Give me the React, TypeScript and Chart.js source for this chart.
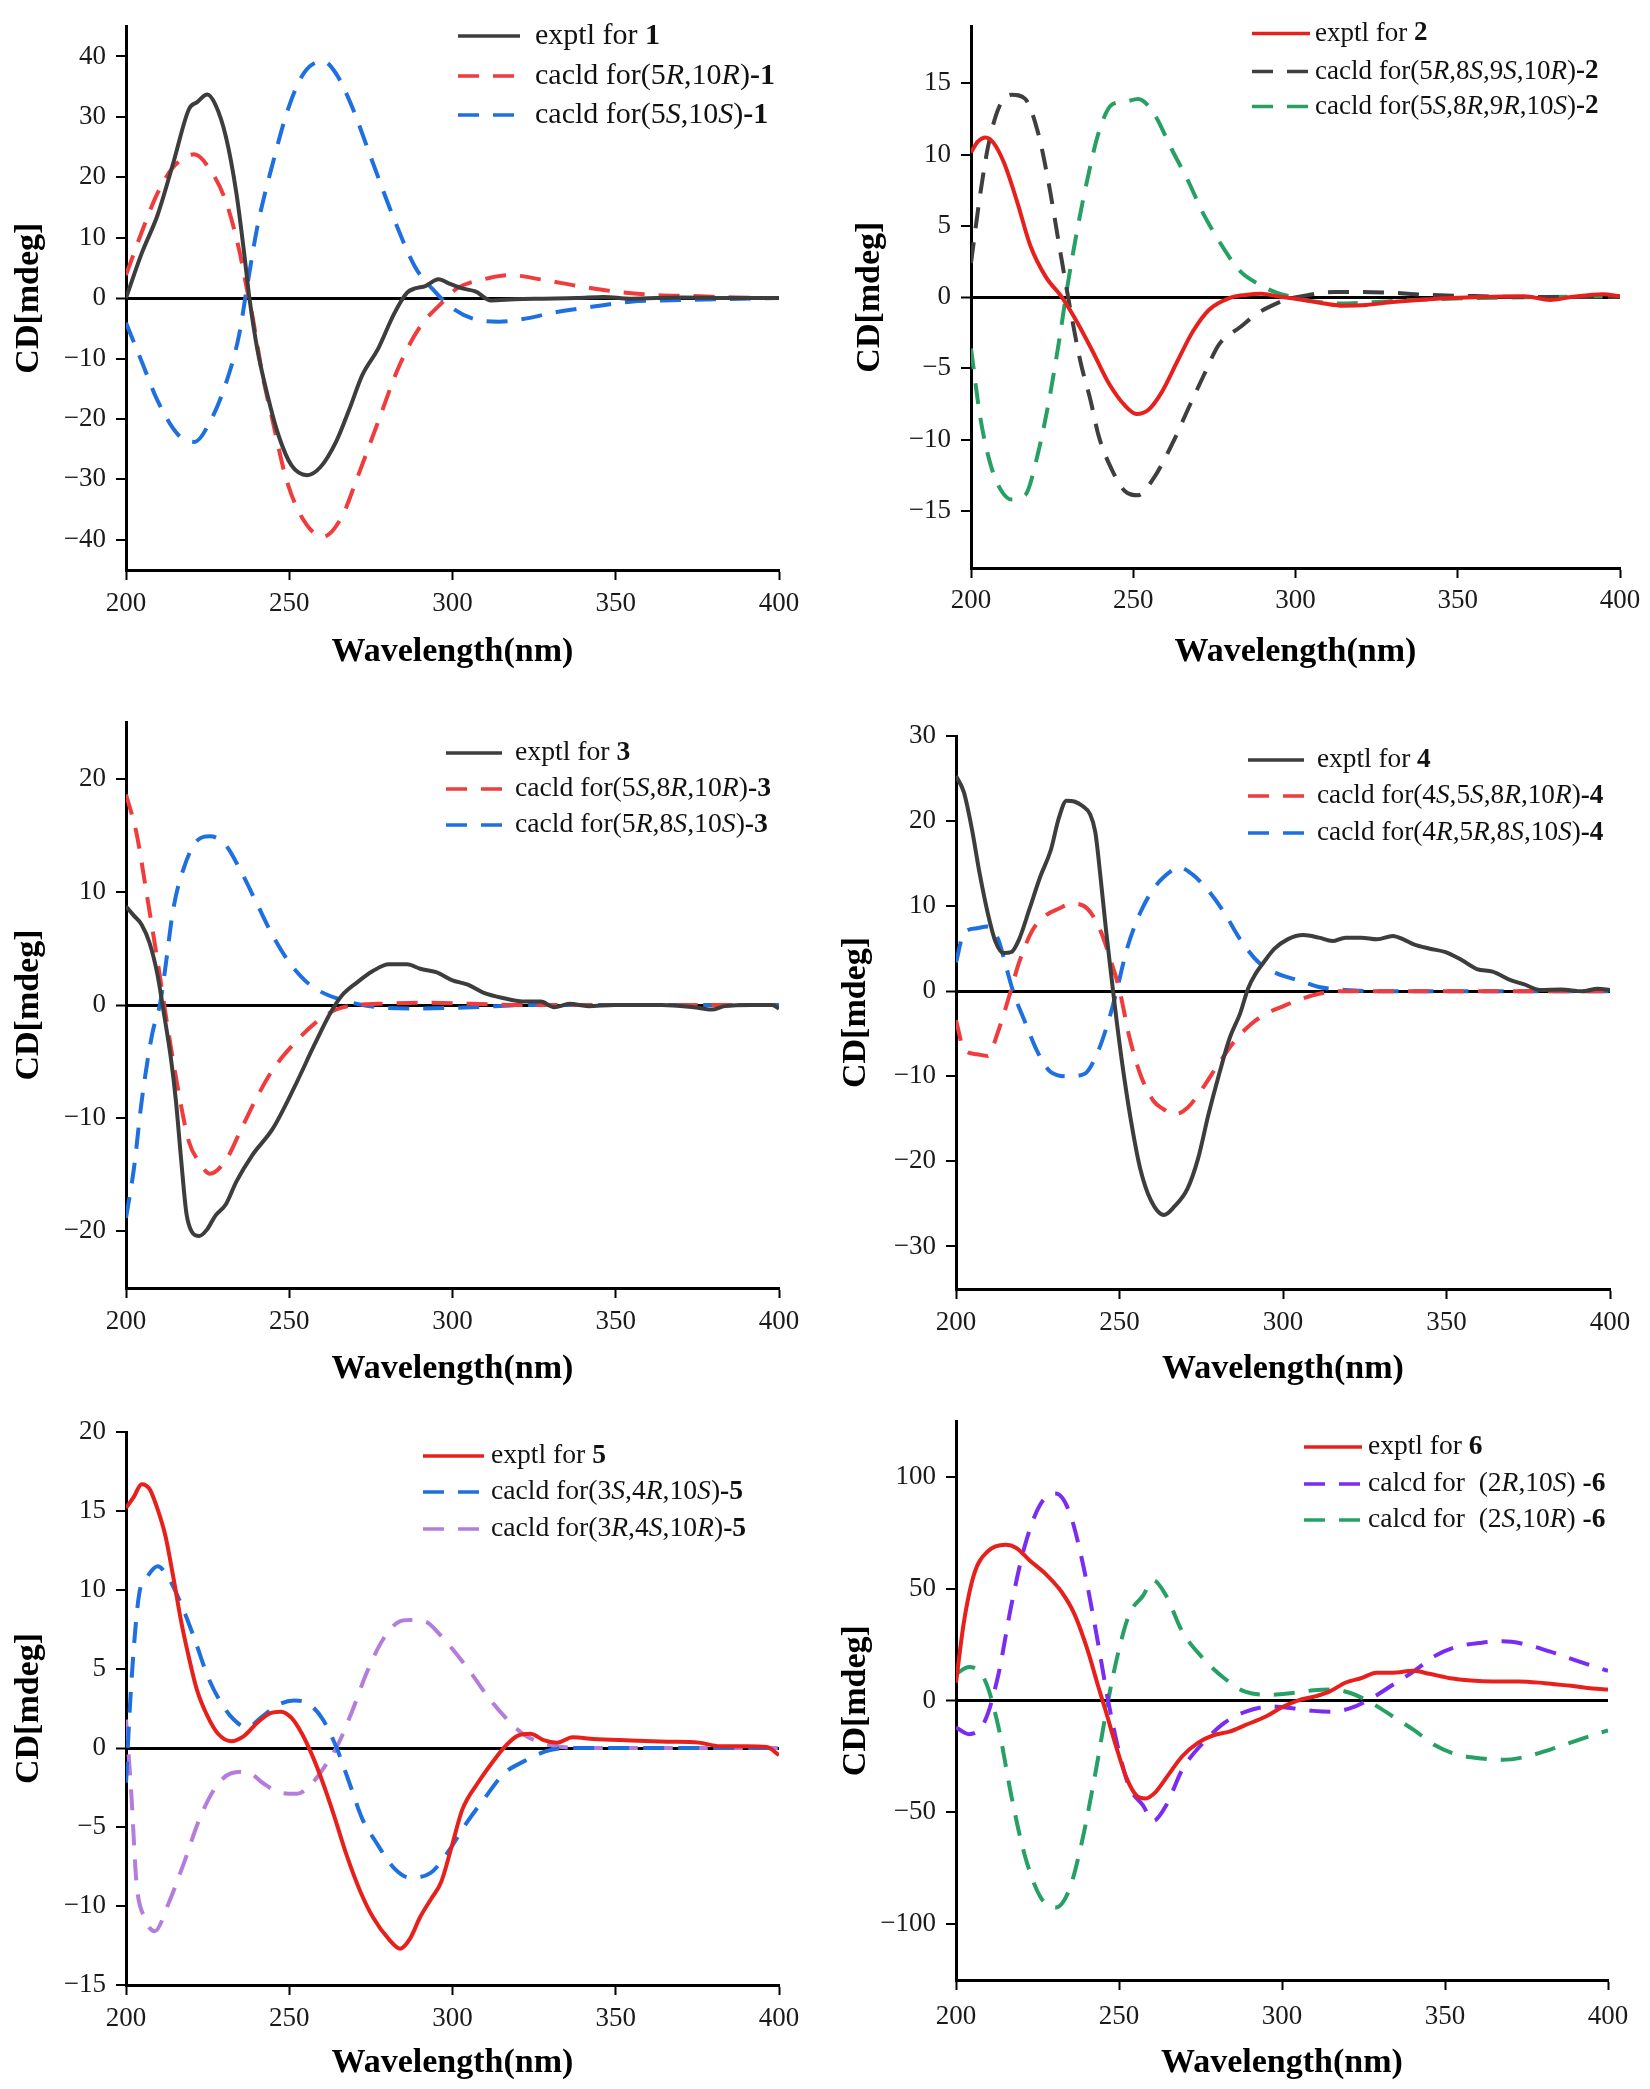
import React, { useEffect, useRef } from "react";
import { Chart, registerables } from "chart.js";

Chart.register(...registerables);

type Pt = [number, number];
type Seg = [string, "n" | "i" | "b"];

// ---------- tick labels ----------
const wavelengthTicks = [200, 250, 300, 350, 400];
const yTicks1 = [-40, -30, -20, -10, 0, 10, 20, 30, 40];
const yTicks2 = [-15, -10, -5, 0, 5, 10, 15];
const yTicks3 = [-20, -10, 0, 10, 20];
const yTicks4 = [-30, -20, -10, 0, 10, 20, 30];
const yTicks5 = [-15, -10, -5, 0, 5, 10, 15, 20];
const yTicks6 = [-100, -50, 0, 50, 100];

// ---------- panel 1 ----------
const p1Exptl: Pt[] = [[200,0],[204.8,7.4],[209.7,13.8],[214.5,22.4],[219.3,31.3],[221.7,32.4],[224.9,33.7],[227.4,32],[230.6,26.7],[233.8,17.4],[236.2,7.4],[237.8,0],[240.2,-8.4],[243.4,-16.2],[246.7,-22.7],[250.7,-27.7],[255.5,-29.3],[259.5,-28],[264.4,-23.7],[268.4,-18.4],[272.4,-12.7],[277.2,-8.4],[282.1,-2.6],[286.1,0.9],[288.5,1.6],[291.7,2.0],[295.7,3.1],[299,2.4],[303,1.6],[307,1.1],[311.8,-0.4],[319,-0.2],[327,-0.1],[338,0],[346.4,0.2],[354.5,-0.1],[370.5,0.1],[386.6,0],[400,0]];
const p1CalcRR: Pt[] = [[200,3.8],[204.8,10.9],[209.7,17.4],[214.5,21.7],[220.9,23.8],[225.7,21.3],[230.6,16],[234.6,8.1],[237,1.6],[238.6,-2.6],[241.8,-12.7],[245,-20.5],[249,-29.8],[253.9,-36.3],[260.3,-39.5],[266,-36.3],[270.8,-29.8],[277.2,-20.5],[283.7,-11.2],[290,-4.8],[296.5,-0.9],[301.4,1.6],[309.4,3.1],[317.5,3.8],[327,3.1],[338.4,2.0],[349.6,1.1],[362.5,0.5],[373.8,0.35],[386.6,0.1],[400,0]];
const p1CalcSS: Pt[] = [[200,-4.1],[204.8,-10.5],[209.7,-17],[216.1,-22.7],[221,-23.8],[225.7,-20.5],[230.6,-14.1],[234.6,-6.2],[237,1.6],[240.2,11.7],[245,22.4],[249.9,31.7],[254.7,37.4],[260.3,39.2],[264.4,37.1],[269.2,31.7],[275.6,22.4],[282.1,13.1],[288.5,5.2],[294.9,0.9],[299.8,-1.6],[306.2,-3.4],[314.2,-3.9],[322.3,-3.4],[331.9,-2.3],[343.2,-1.4],[354.5,-0.6],[367.3,-0.35],[383.4,-0.15],[400,0]];

// ---------- panel 2 ----------
const p2Exptl: Pt[] = [[200,10.15],[202.1,10.9],[204.5,11.2],[207,10.8],[210.2,9.4],[214.2,6.7],[218.3,3.6],[223.1,1.4],[228,0],[232.8,-1.8],[237.7,-3.9],[242.6,-6.1],[247.4,-7.6],[251,-8.2],[254.7,-7.9],[258.7,-6.7],[263.6,-4.5],[268.4,-2.4],[273.3,-0.9],[279.8,-0.06],[284.6,0.15],[289.5,0.24],[294.3,0.06],[300.8,-0.15],[308.9,-0.45],[314.6,-0.6],[321.8,-0.55],[329.9,-0.35],[341.3,-0.15],[357.4,0],[370.4,0.06],[378.5,-0.2],[384.9,0],[394.7,0.2],[400,0.06]];
const p2CalcA: Pt[] = [[200,2.4],[202.9,7.3],[205.3,10.6],[208.6,13.3],[212.6,14.2],[216.7,13.9],[220.7,11.5],[224,7.9],[227.2,3.6],[230.4,-0.6],[233.7,-4.5],[236.9,-7.3],[239.3,-9.7],[243.4,-12.1],[247.4,-13.6],[251.5,-13.9],[256.3,-12.7],[262,-10.3],[266.8,-7.9],[271.7,-5.5],[276.5,-3.3],[283,-2.1],[287.9,-1.2],[292.7,-0.6],[297.6,-0.15],[304,0.15],[312.1,0.36],[320.2,0.36],[329.9,0.3],[341.3,0.15],[357.4,0.06],[378.5,0],[400,0]];
const p2CalcB: Pt[] = [[200,-3.6],[202.9,-8.5],[206.1,-11.8],[209.4,-13.6],[212.6,-14.2],[216.7,-13.9],[220.7,-10.9],[224,-7.3],[227.2,-3],[229.6,0.6],[232.8,4.8],[236.1,8.5],[239.3,11.5],[243.4,13.5],[247.4,13.7],[251.5,13.9],[256.3,12.9],[262,10.3],[266.8,8.2],[271.7,5.8],[278.2,3.3],[283,1.8],[288.7,0.9],[294.3,0.3],[299.2,0],[305.7,-0.3],[313.8,-0.45],[323.5,-0.36],[333.2,-0.24],[349.4,-0.1],[373.6,0],[400,0.06]];

// ---------- panel 3 ----------
const p3Exptl: Pt[] = [[200,8.7],[202.4,7.9],[204.8,7.1],[207.2,5.5],[209.7,2.6],[211.3,-0.2],[213.7,-4.6],[215.3,-8.5],[216.9,-13.7],[218.5,-18.4],[220.1,-20],[222.5,-20.4],[224.9,-19.8],[227.4,-18.6],[230.6,-17.6],[233.8,-15.6],[238.6,-13.3],[245,-10.9],[251.5,-7.3],[257.9,-3.4],[262.8,-0.6],[266,0.8],[270.8,2],[275.6,3],[280.5,3.6],[286.1,3.6],[290.1,3.2],[295,2.9],[299.8,2.2],[304.7,1.8],[309.4,1.1],[315.8,0.6],[322.3,0.3],[327.1,0.3],[331.1,-0.2],[335.9,0.1],[341.6,-0.1],[349.6,0],[364.1,0],[373.8,-0.2],[379.4,-0.4],[383.4,-0.1],[391.5,0],[397.9,0],[400,-0.3]];
const p3CalcA: Pt[] = [[200,18.6],[203.2,15.2],[206.4,9.7],[209.7,3.8],[212.9,-2.2],[216.1,-7.7],[219.3,-12.1],[222.5,-13.9],[225.7,-14.9],[230.6,-13.7],[235.4,-10.9],[240.2,-8.1],[245,-5.7],[251.5,-3.4],[257.9,-1.6],[264.4,-0.4],[270.8,0],[277.2,0.1],[290.1,0.2],[306.2,0.1],[322.3,0],[400,0]];
const p3CalcB: Pt[] = [[200,-18.8],[202.4,-14.5],[204.8,-8.5],[208,-2.6],[210.5,0.2],[212.1,3.4],[214.5,8.5],[217.7,12.1],[221.7,14.5],[225.7,14.9],[230.6,14.1],[235.4,11.7],[240.2,8.9],[245,6.1],[249.9,3.8],[254.7,2.2],[259.5,1.2],[264.4,0.6],[270.8,0.1],[277.2,-0.2],[290.1,-0.3],[306.2,-0.2],[322.3,0],[400,0]];

// ---------- panel 4 ----------
const p4Exptl: Pt[] = [[200,25.3],[202.4,23.4],[204.8,19.2],[207.2,13.9],[209.7,9.2],[212.1,5.8],[214.5,4.5],[216.9,4.6],[219.3,6.1],[222.5,9.7],[225.7,13.4],[229,16.6],[231.4,20.3],[233.8,22.4],[236.2,22.3],[238.6,21.8],[241,20.8],[242.6,18.7],[244.2,13.4],[245.9,7.1],[247.5,1.8],[249.1,-3.4],[251.5,-10.3],[253.9,-16.1],[256.3,-20.8],[259.5,-24.5],[263.6,-26.3],[266.8,-25.3],[270.8,-23.2],[274,-19.7],[277.2,-14.5],[280.5,-9.7],[283.7,-5.5],[286.9,-2.6],[289.3,0.3],[291.7,2.1],[294.1,3.4],[297.4,5],[301.4,6.1],[306.2,6.6],[311,6.3],[315.1,5.9],[319.1,6.3],[323.9,6.3],[328.8,6.1],[333.6,6.5],[336.8,6.1],[340,5.5],[344.9,5],[349.7,4.6],[354.5,3.7],[359.3,2.6],[364.1,2.3],[369,1.4],[373.8,0.8],[378.6,0.15],[385,0.2],[391.5,0],[396.3,0.3],[400,0.15]];
const p4CalcA: Pt[] = [[200,-3.4],[202.4,-6.8],[206.4,-7.4],[209.7,-7.6],[212.9,-4.7],[216.1,-0.8],[219.3,3.4],[223.3,7.1],[227.4,8.9],[231.4,9.7],[235.4,10.3],[240.2,9.7],[244.2,7.1],[247.5,3.4],[249.9,0.3],[253.1,-5.5],[256.3,-9.7],[260.4,-12.9],[263.6,-13.9],[266.8,-14.5],[270.8,-13.7],[275.6,-11.3],[280.5,-8.4],[285.3,-5.8],[290.1,-3.9],[295,-2.6],[299.8,-1.8],[304.6,-1.05],[311,-0.3],[317.5,0],[328.8,0],[400,0]];
const p4CalcB: Pt[] = [[200,3.4],[202.4,6.8],[206.4,7.4],[209.7,7.6],[212.9,6.1],[215.3,2.9],[217.7,-0.3],[220.9,-3.4],[224.9,-7.1],[229,-9.5],[234.6,-10],[239.4,-9.7],[243.4,-7.1],[246.7,-3.4],[249.1,0],[252.3,5],[256.3,9.2],[261.1,12.4],[266,14.2],[267.9,14.6],[272.4,13.7],[277.2,11.8],[282.1,9.2],[286.9,6.1],[292.5,3.4],[298.1,2.1],[304.6,1.3],[311,0.5],[319.1,0.15],[328.8,0],[400,0]];

// ---------- panel 5 ----------
const p5Exptl: Pt[] = [[200,15.2],[202.4,15.9],[204.8,16.7],[207.2,16.4],[209.7,15.1],[212.1,13.4],[214.5,10.8],[216.9,8],[219.3,5.7],[221.7,3.7],[225,2.0],[228.2,0.9],[232.2,0.43],[236.2,0.77],[240.2,1.6],[244.2,2.2],[247.5,2.3],[250.7,1.9],[253.9,0.9],[257.1,-0.5],[260.3,-2.2],[263.6,-4.2],[267.6,-6.8],[271.6,-9],[275.6,-10.7],[280.5,-12.1],[284,-12.7],[286.9,-12.1],[290.1,-10.7],[293.3,-9.6],[296.5,-8.5],[299.8,-6.2],[303,-3.9],[307.8,-2.2],[312.6,-0.8],[315.9,0.06],[319.9,0.77],[323.9,0.9],[327.9,0.5],[332,0.34],[336.8,0.68],[343.2,0.57],[354.5,0.48],[365.7,0.4],[375.4,0.34],[381.8,0.11],[389.9,0.11],[396.3,0.06],[400,-0.45]];
const p5CalcA: Pt[] = [[200,-2.2],[201.6,4],[204,9.7],[206.4,10.8],[209.7,11.5],[212.9,10.8],[216.9,9.1],[221,6.9],[224.9,4.6],[229,2.9],[233,1.8],[237,1.3],[241.8,2],[246.7,2.75],[251.5,3.0],[256.3,2.75],[260.3,1.8],[264.4,0.06],[268.4,-2.2],[272.4,-4.5],[276.4,-5.9],[282.1,-7.6],[286.9,-8.2],[293.3,-7.9],[298.9,-6.5],[303.8,-4.9],[309.4,-3.3],[315.9,-1.6],[322.3,-0.8],[328.7,-0.2],[335.2,0],[400,0]];
const p5CalcB: Pt[] = [[200,1.8],[201.6,-2.8],[203.2,-8.5],[205.6,-10.7],[208.8,-11.6],[212.9,-9.9],[217.7,-7.3],[222.5,-4.5],[227.4,-2.5],[232.2,-1.6],[237,-1.5],[241.8,-2.2],[246.7,-2.8],[252.3,-2.9],[257.1,-2.2],[261.1,-1.1],[265.2,0.34],[269.2,2.3],[274,4.9],[278.8,6.9],[283.7,8],[286.9,8.1],[291.7,8],[296.5,7.1],[301.4,5.9],[306.2,4.6],[311,3.2],[315.9,2],[321.5,0.9],[327.1,0.34],[333.5,0.06],[341.6,0],[400,0]];

// ---------- panel 6 ----------
const p6Exptl: Pt[] = [[200,8],[202.4,34.9],[205.6,56.8],[209.7,66.7],[215.3,69.7],[218.5,68.3],[222.6,62.7],[227.4,56.8],[232.3,48.8],[236.3,38.8],[240.3,22.9],[243.5,7],[246,-5],[249.2,-20.9],[252.4,-34.9],[255.6,-42.8],[258.1,-43.8],[261.3,-40.8],[265.3,-32.9],[269.4,-24.9],[274.2,-18.9],[279,-15.5],[283.9,-13.9],[288.7,-11],[295.2,-7],[300,-3],[304.8,0],[310.5,2],[314.5,4],[319.4,8],[324.2,10],[329,12.5],[333.9,12.5],[340.3,13.3],[345.2,12],[351.6,10],[358,9],[364.5,8.6],[372.6,8.6],[380.6,7.8],[388.7,6.6],[395.2,5.4],[400,5]];
const p6CalcRS: Pt[] = [[200,-12],[204,-15],[208.9,-9],[212.9,11],[217,42.8],[221,68.7],[225.8,87.6],[230.6,92.6],[234.7,84.7],[238.7,62.7],[242.7,32.9],[246.8,-1],[250,-22.9],[253.2,-38.8],[257.3,-46.8],[260.5,-53.8],[264.5,-46.8],[269.4,-30.9],[275.8,-18.9],[282.3,-10],[288.7,-5],[296.8,-2.6],[303.2,-3.4],[309.7,-4.6],[315.3,-5],[321,-3.4],[327.4,1],[333.9,7],[340.3,13],[346.8,19.9],[353.2,23.9],[361.3,25.9],[367.7,26.5],[374.2,25.3],[382.3,21.9],[390.3,17.9],[400,13.3]];
const p6CalcSR: Pt[] = [[200,12],[204,15],[208.9,9],[212.9,-11],[217,-42.8],[221,-68.7],[225.8,-87.6],[230.6,-92.6],[234.7,-84.7],[238.7,-62.7],[242.7,-32.9],[246.8,1],[250,22.9],[253.2,38.8],[257.3,46.8],[260.5,53.8],[264.5,46.8],[269.4,30.9],[275.8,18.9],[282.3,10],[288.7,4],[296.8,2.6],[303.2,3.4],[309.7,4.6],[315.3,5],[321,3.4],[327.4,-1],[333.9,-7],[340.3,-13],[346.8,-19.9],[353.2,-23.9],[361.3,-25.9],[367.7,-26.5],[374.2,-25.3],[382.3,-21.9],[390.3,-17.9],[400,-13.3]];

// ---------- legend labels ----------
const legend1: Seg[][] = [
  [["exptl for ", "n"], ["1", "b"]],
  [["cacld for(5", "n"], ["R", "i"], [",10", "n"], ["R", "i"], [")", "n"], ["-1", "b"]],
  [["cacld for(5", "n"], ["S", "i"], [",10", "n"], ["S", "i"], [")", "n"], ["-1", "b"]],
];
const legend2: Seg[][] = [
  [["exptl for ", "n"], ["2", "b"]],
  [["cacld for(5", "n"], ["R", "i"], [",8", "n"], ["S", "i"], [",9", "n"], ["S", "i"], [",10", "n"], ["R", "i"], [")", "n"], ["-2", "b"]],
  [["cacld for(5", "n"], ["S", "i"], [",8", "n"], ["R", "i"], [",9", "n"], ["R", "i"], [",10", "n"], ["S", "i"], [")", "n"], ["-2", "b"]],
];
const legend3: Seg[][] = [
  [["exptl for ", "n"], ["3", "b"]],
  [["cacld for(5", "n"], ["S", "i"], [",8", "n"], ["R", "i"], [",10", "n"], ["R", "i"], [")", "n"], ["-3", "b"]],
  [["cacld for(5", "n"], ["R", "i"], [",8", "n"], ["S", "i"], [",10", "n"], ["S", "i"], [")", "n"], ["-3", "b"]],
];
const legend4: Seg[][] = [
  [["exptl for ", "n"], ["4", "b"]],
  [["cacld for(4", "n"], ["S", "i"], [",5", "n"], ["S", "i"], [",8", "n"], ["R", "i"], [",10", "n"], ["R", "i"], [")", "n"], ["-4", "b"]],
  [["cacld for(4", "n"], ["R", "i"], [",5", "n"], ["R", "i"], [",8", "n"], ["S", "i"], [",10", "n"], ["S", "i"], [")", "n"], ["-4", "b"]],
];
const legend5: Seg[][] = [
  [["exptl for ", "n"], ["5", "b"]],
  [["cacld for(3", "n"], ["S", "i"], [",4", "n"], ["R", "i"], [",10", "n"], ["S", "i"], [")", "n"], ["-5", "b"]],
  [["cacld for(3", "n"], ["R", "i"], [",4", "n"], ["S", "i"], [",10", "n"], ["R", "i"], [")", "n"], ["-5", "b"]],
];
const legend6: Seg[][] = [
  [["exptl for ", "n"], ["6", "b"]],
  [["calcd for  (2", "n"], ["R", "i"], [",10", "n"], ["S", "i"], [") ", "n"], ["-6", "b"]],
  [["calcd for  (2", "n"], ["S", "i"], [",10", "n"], ["R", "i"], [") ", "n"], ["-6", "b"]],
];

// ---------- styles ----------
const FAMILY = "'Liberation Serif', 'Times New Roman', serif";
const BLACK = "#3d3d3d";
const RED_D = "#f03c3c";
const BLUE = "#1e6fe0";
const GRAY = "#3f3f3f";
const GREEN = "#27a065";
const RED = "#e8201c";
const LILAC = "#b47ddc";
const VIOLET = "#7a2cf2";
const DASH = [21, 14];

interface Series { data: Pt[]; color: string; dash: boolean }
interface Panel {
  cell: [number, number, number, number];
  area: { l: number; r: number; t: number; b: number };
  yMin: number; yMax: number; yTicks: number[];
  yTitlePad: number; xTitlePad: number; xTickPad: number;
  legend: { x0: number; x1: number; tx: number; rows: number[]; size: number; labels: Seg[][] };
  series: Series[];
}

const panels: Panel[] = [
  {
    cell: [0, 0, 825, 690], area: { l: 126, r: 779, t: 5, b: 570 },
    yMin: -45, yMax: 45, yTicks: yTicks1, yTitlePad: 8.6, xTitlePad: 17.6, xTickPad: 8,
    legend: { x0: 458, x1: 520, tx: 535, rows: [36, 76, 115], size: 30, labels: legend1 },
    series: [
      { data: p1Exptl, color: BLACK, dash: false },
      { data: p1CalcRR, color: RED_D, dash: true },
      { data: p1CalcSS, color: BLUE, dash: true },
    ],
  },
  {
    cell: [825, 0, 1650, 690], area: { l: 971, r: 1620, t: 4, b: 568 },
    yMin: -19, yMax: 19, yTicks: yTicks2, yTitlePad: 24.6, xTitlePad: 17.6, xTickPad: 7,
    legend: { x0: 1252, x1: 1310, tx: 1315, rows: [33.5, 71.5, 106.5], size: 27, labels: legend2 },
    series: [
      { data: p2Exptl, color: RED, dash: false },
      { data: p2CalcA, color: GRAY, dash: true },
      { data: p2CalcB, color: GREEN, dash: true },
    ],
  },
  {
    cell: [0, 690, 825, 1395], area: { l: 126, r: 779, t: 722, b: 1288 },
    yMin: -25, yMax: 25, yTicks: yTicks3, yTitlePad: 8.6, xTitlePad: 5, xTickPad: 8,
    legend: { x0: 446, x1: 502, tx: 515, rows: [753, 789, 825], size: 27.7, labels: legend3 },
    series: [
      { data: p3Exptl, color: BLACK, dash: false },
      { data: p3CalcA, color: RED_D, dash: true },
      { data: p3CalcB, color: BLUE, dash: true },
    ],
  },
  {
    cell: [825, 690, 1650, 1395], area: { l: 956, r: 1610, t: 736, b: 1289 },
    yMin: -35, yMax: 30, yTicks: yTicks4, yTitlePad: 11.1, xTitlePad: 5, xTickPad: 8,
    legend: { x0: 1248, x1: 1304, tx: 1317, rows: [760, 796, 833], size: 27.3, labels: legend4 },
    series: [
      { data: p4Exptl, color: BLACK, dash: false },
      { data: p4CalcA, color: RED_D, dash: true },
      { data: p4CalcB, color: BLUE, dash: true },
    ],
  },
  {
    cell: [0, 1395, 825, 2089], area: { l: 126, r: 779, t: 1432, b: 1985 },
    yMin: -15, yMax: 20, yTicks: yTicks5, yTitlePad: 8.6, xTitlePad: 5.6, xTickPad: 8,
    legend: { x0: 423, x1: 484, tx: 491, rows: [1456, 1492, 1529], size: 27.6, labels: legend5 },
    series: [
      { data: p5Exptl, color: RED, dash: false },
      { data: p5CalcA, color: BLUE, dash: true },
      { data: p5CalcB, color: LILAC, dash: true },
    ],
  },
  {
    cell: [825, 1395, 1650, 2089], area: { l: 956, r: 1608, t: 1419, b: 1980 },
    yMin: -125, yMax: 125, yTicks: yTicks6, yTitlePad: 11.1, xTitlePad: 5.6, xTickPad: 11,
    legend: { x0: 1304, x1: 1362, tx: 1368, rows: [1447, 1484, 1520], size: 27.5, labels: legend6 },
    series: [
      { data: p6Exptl, color: RED, dash: false },
      { data: p6CalcRS, color: VIOLET, dash: true },
      { data: p6CalcSR, color: GREEN, dash: true },
    ],
  },
];

function legendPlugin(p: Panel) {
  return {
    id: "cdLegend",
    afterDraw(chart: any) {
      const ctx: CanvasRenderingContext2D = chart.ctx;
      const ox = p.cell[0];
      const oy = p.cell[1];
      p.series.forEach((s, i) => {
        const y = p.legend.rows[i] - oy;
        ctx.save();
        ctx.strokeStyle = s.color;
        ctx.lineWidth = 3.5;
        ctx.setLineDash(s.dash ? DASH : []);
        ctx.beginPath();
        ctx.moveTo(p.legend.x0 - ox, y);
        ctx.lineTo(p.legend.x1 - ox, y);
        ctx.stroke();
        ctx.setLineDash([]);
        ctx.textBaseline = "middle";
        ctx.textAlign = "left";
        ctx.fillStyle = "#111";
        let x = p.legend.tx - ox;
        for (const [t, st] of p.legend.labels[i]) {
          ctx.font = `${st === "i" ? "italic " : ""}${st === "b" ? "bold " : ""}${p.legend.size}px ${FAMILY}`;
          ctx.fillText(t, x, y);
          x += ctx.measureText(t).width;
        }
        ctx.restore();
      });
    },
  };
}

function buildChart(canvas: HTMLCanvasElement, p: Panel) {
  const [x0, y0, x1, y1] = p.cell;
  const { l, r, t, b } = p.area;
  const tickFont = { family: FAMILY, size: 27 };
  const titleFont = { family: FAMILY, size: 34, weight: "bold" as const };
  return new Chart(canvas, {
    type: "line",
    data: {
      datasets: p.series.map((s) => ({
        data: s.data.map(([x, y]) => ({ x, y })),
        borderColor: s.color,
        borderWidth: 4,
        borderDash: s.dash ? DASH : [],
        pointRadius: 0,
        fill: false,
        cubicInterpolationMode: "monotone" as const,
      })),
    },
    options: {
      animation: false,
      responsive: false,
      maintainAspectRatio: false,
      events: [],
      layout: { padding: { left: 0, top: t - y0, right: x1 - r, bottom: 0 } },
      plugins: { legend: { display: false }, tooltip: { enabled: false } },
      scales: {
        x: {
          type: "linear",
          min: 200,
          max: 400,
          afterBuildTicks: (s: any) => { s.ticks = wavelengthTicks.map((v) => ({ value: v })); },
          afterFit: (s: any) => { s.height = y1 - b; },
          ticks: { font: tickFont, color: "#1a1a1a", padding: p.xTickPad, maxRotation: 0, autoSkip: false, callback: (v: any) => String(v) },
          grid: { drawOnChartArea: false, drawTicks: true, tickLength: 10, tickColor: "#000", tickWidth: 2, color: "#000" },
          border: { display: true, color: "#000", width: 3 },
          title: { display: true, text: "Wavelength(nm)", font: titleFont, color: "#000", padding: { top: 0, bottom: p.xTitlePad } },
        },
        y: {
          type: "linear",
          min: p.yMin,
          max: p.yMax,
          afterBuildTicks: (s: any) => { s.ticks = p.yTicks.map((v) => ({ value: v })); },
          afterFit: (s: any) => { s.width = l - x0; },
          ticks: {
            font: tickFont, color: "#1a1a1a", padding: 10, autoSkip: false,
            callback: (v: any) => (v < 0 ? "\u2212" + Math.abs(v) : String(v)),
          },
          grid: {
            drawOnChartArea: true, drawTicks: true, tickLength: 10, tickColor: "#000", tickWidth: 2,
            color: (c: any) => (c.tick && c.tick.value === 0 ? "#000" : "rgba(0,0,0,0)"),
            lineWidth: (c: any) => (c.tick && c.tick.value === 0 ? 3 : 0),
          },
          border: { display: true, color: "#000", width: 3 },
          title: { display: true, text: "CD[mdeg]", font: titleFont, color: "#000", padding: { top: p.yTitlePad, bottom: 0 } },
        },
      },
    } as any,
    plugins: [legendPlugin(p)],
  });
}

function ChartPanel({ p }: { p: Panel }) {
  const ref = useRef<HTMLCanvasElement | null>(null);
  const [x0, y0, x1, y1] = p.cell;
  useEffect(() => {
    if (!ref.current) return;
    const ch = buildChart(ref.current, p);
    return () => ch.destroy();
  }, [p]);
  return (
    <canvas
      ref={ref}
      width={x1 - x0}
      height={y1 - y0}
      style={{ position: "absolute", left: x0, top: y0, width: x1 - x0, height: y1 - y0, display: "block" }}
    />
  );
}

export default function App() {
  return (
    <div style={{ position: "absolute", left: 0, top: 0, width: 1650, height: 2089, background: "#fff", overflow: "hidden" }}>
      {panels.map((p, i) => (
        <ChartPanel key={i} p={p} />
      ))}
    </div>
  );
}
